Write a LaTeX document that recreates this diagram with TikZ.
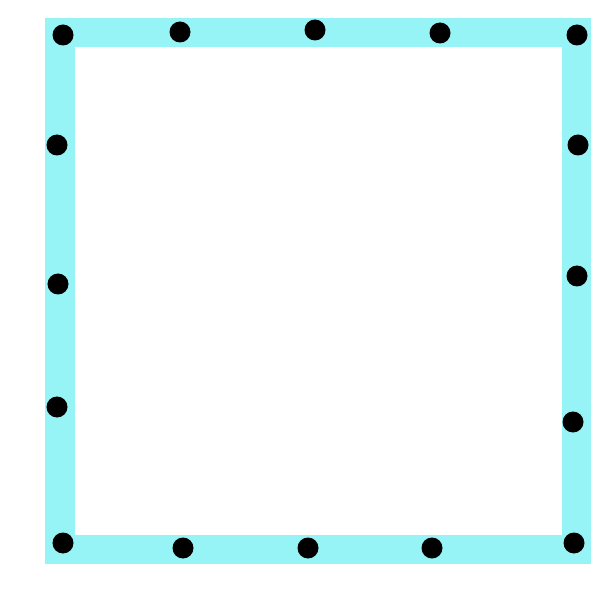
\documentclass[tikz,border=0pt]{standalone}
\definecolor{bandcyan}{RGB}{150,244,246}
\tikzset{
  dot/.style={circle, fill=black, inner sep=0pt, minimum size=0.63cm},
  band/.style={draw=bandcyan, line width=0.87cm}
}
\begin{document}
\begin{tikzpicture}[x=0.03cm, y=-0.03cm]
    \useasboundingbox (0,0) rectangle (605,594);

    % Cyan frame
    \draw[band] (60,33) rectangle (576,549);

    % Top side
    \node[dot] (t1) at (63,35) {};
    \node[dot] (t2) at (180,32) {};
    \node[dot] (t3) at (315,30) {};
    \node[dot] (t4) at (440,33) {};
    \node[dot] (t5) at (577,35) {};

    % Left side
    \node[dot] (l1) at (57,145) {};
    \node[dot] (l2) at (58,284) {};
    \node[dot] (l3) at (57,407) {};
    \node[dot] (l4) at (63,543) {};

    % Right side
    \node[dot] (r1) at (578,145) {};
    \node[dot] (r2) at (577,276) {};
    \node[dot] (r3) at (573,422) {};
    \node[dot] (r4) at (574,543) {};

    % Bottom side
    \node[dot] (b1) at (183,548) {};
    \node[dot] (b2) at (308,548) {};
    \node[dot] (b3) at (432,548) {};
\end{tikzpicture}
\end{document}
